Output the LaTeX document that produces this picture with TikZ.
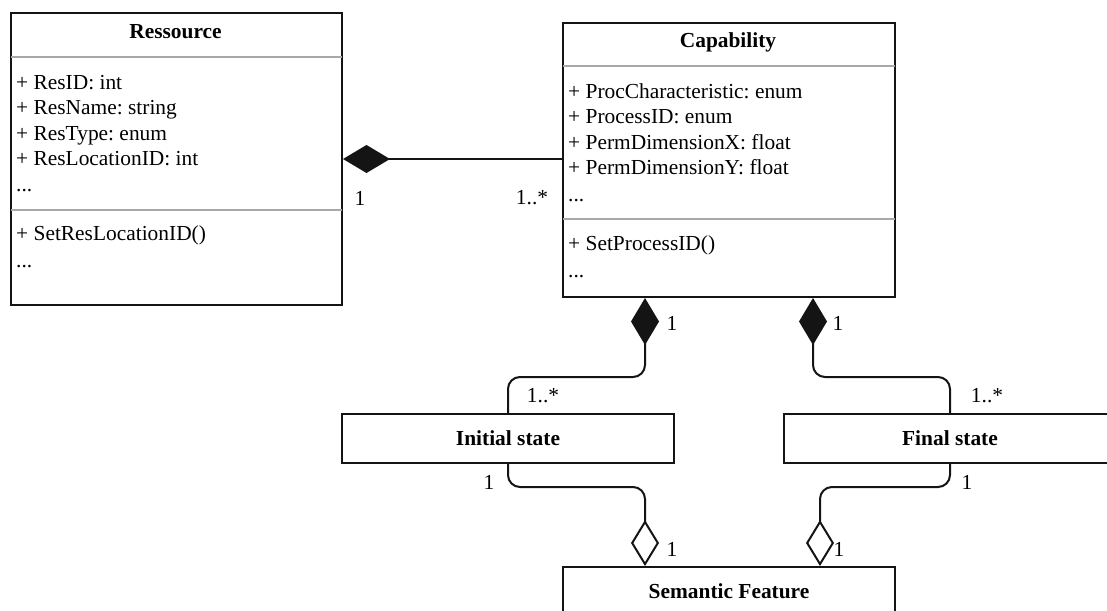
\documentclass[tikz,border=0pt]{standalone}
\usepackage{fontspec}
\setmainfont{Liberation Serif}
\usetikzlibrary{arrows.meta}
\frenchspacing

\definecolor{umlline}{HTML}{141414}
\definecolor{umlsep}{HTML}{A8A8A8}

\begin{document}
\begin{tikzpicture}[x=1pt, y=-1pt, font=\fontsize{21.4}{25.5}\selectfont,
    box/.style={draw=umlline, line width=2pt, anchor=north west, inner sep=0pt},
    sep/.style={umlsep, line width=2pt, shorten <=1pt, shorten >=1pt},
    member/.style={anchor=base west, inner sep=0pt},
    title/.style={anchor=base, inner sep=0pt, font=\fontsize{21.4}{25.5}\selectfont\bfseries},
    statebox/.style={box, minimum width=332pt, minimum height=49pt,
                     font=\fontsize{21.4}{25.5}\selectfont\bfseries},
    mult/.style={inner sep=0pt},
    compose/.style={umlline, line width=2pt, rounded corners=12pt,
                    {Diamond[length=47pt, width=28pt]}-},
    aggregate/.style={umlline, line width=2pt, rounded corners=12pt,
                      -{Diamond[open, length=46pt, width=28pt]}}]

\useasboundingbox (0,0) rectangle (1107,610);

% --- Ressource class ----------------------------------------------------
\node[box, minimum width=331pt, minimum height=292pt] (res) at (10,12) {};
\draw[sep] (res.west |- 0,57) -- (res.east |- 0,57);
\draw[sep] (res.west |- 0,210) -- (res.east |- 0,210);
\node[title] (restitle) at (175.5,38) {Ressource};
\foreach \t [count=\i] in {+ ResID: int, + ResName: string, + ResType: enum,
                           + ResLocationID: int}
  \node[member] (resattr\i) at (16,{63.5+25.5*\i}) {\t};
\node[member] (resattr5) at (16,191) {...};
\node[member] (resop1) at (16,240) {+ SetResLocationID()};
\node[member] (resop2) at (16,267) {...};

% --- Capability class ---------------------------------------------------
\node[box, minimum width=332pt, minimum height=274pt] (cap) at (562,22) {};
\draw[sep] (cap.west |- 0,66) -- (cap.east |- 0,66);
\draw[sep] (cap.west |- 0,219) -- (cap.east |- 0,219);
\node[title] (captitle) at (728,48) {Capability};
\foreach \t [count=\i] in {+ ProcCharacteristic: enum, + ProcessID: enum,
                           + PermDimensionX: float, + PermDimensionY: float}
  \node[member] (capattr\i) at (568,{72.5+25.5*\i}) {\t};
\node[member] (capattr5) at (568,201) {...};
\node[member] (capop1) at (568,250) {+ SetProcessID()};
\node[member] (capop2) at (568,277) {...};

% --- states and feature -------------------------------------------------
\node[statebox] (stI) at (341,413) {Initial state};
\node[statebox] (stF) at (783,413) {Final state};
\node[statebox] (sem) at (562,566) {Semantic Feature};

\coordinate (capl) at ([xshift=83pt]cap.south west);
\coordinate (capr) at ([xshift=-83pt]cap.south east);
\coordinate (seml) at ([xshift=83pt]sem.north west);
\coordinate (semr) at ([xshift=-76pt]sem.north east);

% --- connectors ---------------------------------------------------------
\draw[compose] (res.east) -- (res.east -| cap.west);
\draw[compose] (capl) -- (capl |- 0,377) -- (stI.north |- 0,377) -- (stI.north);
\draw[compose] (capr) -- (capr |- 0,377) -- (stF.north |- 0,377) -- (stF.north);
\draw[aggregate] (stI.south) -- (stI.south |- 0,487) -- (seml |- 0,487) -- (seml);
\draw[aggregate] (stF.south) -- (stF.south |- 0,487) -- (semr |- 0,487) -- (semr);

% --- multiplicities -- name/x/y/text ------------------------------------
\foreach \n/\x/\y/\t in {%
    m1/360/198/{1}, m2/532/198/{1..*},
    m3/672/323/{1}, m4/838/323/{1},
    m5/543/396/{1..*}, m6/987/396/{1..*},
    m7/489/482/{1}, m8/967/482/{1},
    m9/672/549/{1}, m10/839/549/{1}}
  \node[mult] (\n) at (\x,\y) {\t};
\end{tikzpicture}
\end{document}
